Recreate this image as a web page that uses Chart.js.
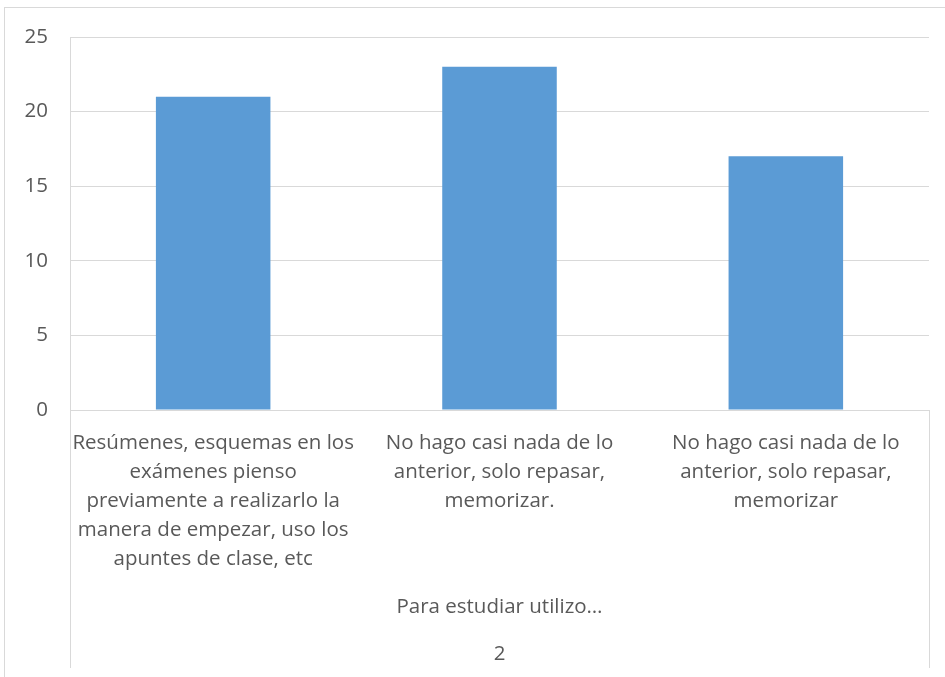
<!DOCTYPE html>
<html>
<head>
<meta charset="utf-8">
<script src="https://cdn.jsdelivr.net/npm/chart.js@4/dist/chart.umd.min.js"></script>
<style>
  html, body { margin: 0; padding: 0; background: #fff; }
  #wrap { width: 945px; height: 677px; }
</style>
</head>
<body>
<div id="wrap"><canvas id="chart" width="945" height="677"></canvas></div>
<script>
// Data
const categories = [
    ['Resúmenes, esquemas en los', 'exámenes pienso', 'previamente a realizarlo la', 'manera de empezar, uso los', 'apuntes de clase, etc'],
    ['No hago casi nada de lo', 'anterior, solo repasar,', 'memorizar.'],
    ['No hago casi nada de lo', 'anterior, solo repasar,', 'memorizar']
];
const values = [21, 23, 17];
const groupLabel = 'Para estudiar utilizo…';
const outerLabel = '2';
const yTicks = [0, 5, 10, 15, 20, 25];

const textColor = '#595959';
const fontFamily = "'Open Sans', 'Noto Sans', sans-serif";
const fontSize = 20.5;

// Chart border + multi-level category separators
const frameAndGroups = {
    id: 'frameAndGroups',
    beforeDraw(chart) {
        const ctx = chart.ctx;
        ctx.save();
        ctx.strokeStyle = '#D9D9D9';
        ctx.lineWidth = 1;
        ctx.strokeRect(4.5, 7.5, 1000, 1000);
        ctx.restore();
    },
    afterDraw(chart) {
        const ctx = chart.ctx;
        const area = chart.chartArea;
        ctx.save();
        ctx.strokeStyle = '#D9D9D9';
        ctx.lineWidth = 1;
        ctx.beginPath();
        ctx.moveTo(Math.round(area.left) + 0.5, area.bottom);
        ctx.lineTo(Math.round(area.left) + 0.5, area.bottom + 258);
        ctx.moveTo(Math.round(area.right) + 0.5, area.bottom);
        ctx.lineTo(Math.round(area.right) + 0.5, area.bottom + 258);
        ctx.stroke();

        const cx = (area.left + area.right) / 2;
        ctx.fillStyle = textColor;
        ctx.font = fontSize + 'px ' + fontFamily;
        ctx.textAlign = 'center';
        ctx.textBaseline = 'middle';
        ctx.fillText(groupLabel, cx, area.bottom + 197);
        ctx.fillText(outerLabel, cx, area.bottom + 244);
        ctx.restore();
    }
};

new Chart(document.getElementById('chart'), {
    type: 'bar',
    data: {
        labels: categories,
        datasets: [{
            data: values,
            backgroundColor: '#5B9BD5',
            borderWidth: 0,
            categoryPercentage: 0.4,
            barPercentage: 1.0
        }]
    },
    options: {
        responsive: false,
        animation: false,
        layout: { padding: { left: 0, top: 37, right: 16, bottom: 0 } },
        plugins: {
            legend: { display: false },
            tooltip: { enabled: false }
        },
        scales: {
            x: {
                grid: { display: false, drawTicks: false },
                border: { display: true, color: '#D9D9D9' },
                ticks: {
                    color: textColor,
                    font: { family: fontFamily, size: fontSize, lineHeight: 29 / fontSize },
                    padding: 19,
                    maxRotation: 0,
                    autoSkip: false
                },
                afterFit(scale) { scale.height = 267; }
            },
            y: {
                min: 0,
                max: 25,
                afterBuildTicks(scale) { scale.ticks = yTicks.map(v => ({ value: v })); },
                grid: { color: '#D9D9D9', drawTicks: false },
                border: { display: true, color: '#D9D9D9' },
                ticks: {
                    color: textColor,
                    font: { family: fontFamily, size: fontSize },
                    padding: 22
                },
                afterFit(scale) { scale.width = 70; }
            }
        }
    },
    plugins: [frameAndGroups]
});
</script>
</body>
</html>
